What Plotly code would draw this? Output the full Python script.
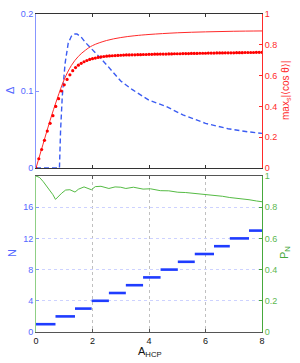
import numpy as np
import plotly.graph_objects as go

# ---- data ----
delta_x = [0, 0.83, 0.87, 0.93, 1.03, 1.14, 1.25, 1.35, 1.45, 1.6, 1.75, 2.0, 2.25, 2.5,
           2.75, 3.0, 3.4, 3.8, 4.0, 4.6, 5.2, 6.0, 6.8, 7.5, 8.0]
delta_y = [0, 0, 0.049, 0.093, 0.136, 0.162, 0.171, 0.174, 0.174, 0.170, 0.163, 0.154, 0.144,
           0.134, 0.124, 0.113, 0.102, 0.092, 0.088, 0.080, 0.069, 0.058, 0.051, 0.047, 0.045]

cos_line_x = [0, 0.25, 0.5, 0.75, 1.0, 1.25, 1.5, 1.75, 2.0, 2.5, 3.0, 3.5, 4.0, 5.0, 6.0, 7.0, 8.0]
cos_line_y = [0, 0.155, 0.31, 0.45, 0.575, 0.665, 0.725, 0.765, 0.795, 0.828, 0.847, 0.859,
              0.867, 0.878, 0.884, 0.888, 0.89]

cos_dot_x = np.round(np.arange(0, 8.001, 0.1), 1)
cos_dot_y = [0.00, 0.06, 0.12, 0.18, 0.24, 0.29, 0.34, 0.40, 0.45, 0.50,
             0.54, 0.575, 0.605, 0.632, 0.652, 0.668, 0.680, 0.690, 0.698, 0.705,
             0.710, 0.714, 0.718, 0.721, 0.724, 0.726, 0.728, 0.729, 0.730, 0.731,
             0.732, 0.733, 0.734, 0.734, 0.735, 0.735, 0.736, 0.736, 0.737, 0.737,
             0.738, 0.738, 0.739, 0.739, 0.740, 0.740, 0.740, 0.741, 0.741, 0.742,
             0.742, 0.742, 0.743, 0.743, 0.743, 0.744, 0.744, 0.744, 0.745, 0.745,
             0.745, 0.746, 0.746, 0.746, 0.747, 0.747, 0.747, 0.748, 0.748, 0.748,
             0.748, 0.749, 0.749, 0.749, 0.750, 0.750, 0.750, 0.750, 0.751, 0.751, 0.751]

n_breaks = [0, 0.69, 1.38, 1.97, 2.58, 3.18, 3.79, 4.41, 5.02, 5.62, 6.30, 6.86, 7.54, 8.0]
n_values = [1, 2, 3, 4, 5, 6, 7, 8, 9, 10, 11, 12, 13]

pn_x = [0, 0.13, 0.26, 0.4, 0.5, 0.6, 0.69, 0.8, 0.91, 1.05, 1.2, 1.38, 1.5, 1.7, 1.96, 2.1,
        2.3, 2.58, 2.8, 3.0, 3.18, 3.45, 3.79, 4.05, 4.40, 4.7, 5.02, 5.3, 5.61, 5.9, 6.30,
        6.6, 6.86, 7.2, 7.54, 7.8, 8.0]
pn_y = [1, 0.99, 0.963, 0.93, 0.91, 0.88, 0.85, 0.872, 0.89, 0.91, 0.912, 0.897, 0.915, 0.93,
        0.912, 0.932, 0.934, 0.92, 0.93, 0.928, 0.92, 0.928, 0.916, 0.918, 0.906, 0.905,
        0.896, 0.894, 0.888, 0.886, 0.876, 0.87, 0.862, 0.856, 0.848, 0.84, 0.835]

x_ticks = [0, 2, 4, 6, 8]
delta_ticks = [0, 0.1, 0.2]
delta_ticktext = ["0", "0.1", "0.2"]
frac_ticks = [0, 0.2, 0.4, 0.6, 0.8, 1]
frac_ticktext = ["0", "0.2", "0.4", "0.6", "0.8", "1"]
n_ticks = [0, 4, 8, 12, 16]

# ---- styling ----
FONT = "Liberation Sans, Arial, DejaVu Sans"
BLUE_TXT = "#5468ff"
BLUE_AX = "#8796ff"
RED = "#ff2a2a"
GREEN = "#46a83c"
W, H = 300, 363
ML, MR, MT, MB = 36, 38, 14, 31
PH = H - MT - MB


def px2x(px):
    return (px - ML) / (W - ML - MR)


def py2y(py):
    return (H - MB - py) / PH


top_dom = [py2y(168), 1.0]
bot_dom = [0.0, py2y(176)]

# step segments
step_x, step_y = [], []
for i, n in enumerate(n_values):
    step_x += [n_breaks[i], n_breaks[i + 1], None]
    step_y += [n, n, None]

fig = go.Figure()
fig.add_trace(go.Scatter(x=delta_x, y=delta_y, xaxis="x", yaxis="y", mode="lines",
                         line=dict(color="#3b5cf2", width=1.4, dash="5px,3px")))
fig.add_trace(go.Scatter(x=cos_line_x, y=cos_line_y, xaxis="x", yaxis="y2", mode="lines",
                         line=dict(color=RED, width=1, shape="spline")))
fig.add_trace(go.Scatter(x=cos_dot_x, y=cos_dot_y, xaxis="x", yaxis="y2", mode="markers",
                         marker=dict(color="#ff0000", size=3.2, line=dict(width=0))))
fig.add_trace(go.Scatter(x=step_x, y=step_y, xaxis="x2", yaxis="y3", mode="lines",
                         line=dict(color="#1f3cff", width=2.6), connectgaps=False))
fig.add_trace(go.Scatter(x=pn_x, y=pn_y, xaxis="x2", yaxis="y4", mode="lines",
                         line=dict(color="#55bb44", width=1)))

tickfont = dict(family=FONT, size=9)
common_x = dict(range=[0, 8], tickvals=x_ticks, ticks="inside", ticklen=3, tickwidth=1,
                showline=True, linewidth=1, mirror="ticks", zeroline=False, automargin=False)

fig.update_layout(
    width=W, height=H, margin=dict(l=ML, r=MR, t=MT, b=MB, autoexpand=False),
    paper_bgcolor="white", plot_bgcolor="white", showlegend=False,
    font=dict(family=FONT, size=9),
    xaxis=dict(domain=[0, 1], anchor="y", showticklabels=False, showgrid=False,
               linecolor="#333333", tickcolor="#333333", layer="below traces", **common_x),
    yaxis=dict(domain=top_dom, anchor="x", range=[0, 0.2], tickvals=delta_ticks,
               ticktext=delta_ticktext, ticks="inside", ticklen=3, showline=True,
               linecolor=BLUE_AX, tickcolor=BLUE_AX, tickfont=dict(color=BLUE_TXT, **tickfont),
               showgrid=False, zeroline=False, automargin=False),
    yaxis2=dict(overlaying="y", side="right", anchor="x", range=[0, 1], tickvals=frac_ticks,
                ticktext=frac_ticktext, ticks="inside", ticklen=3, showline=True,
                linecolor=RED, tickcolor=RED, tickfont=dict(color=RED, **tickfont),
                showgrid=False, zeroline=False, automargin=False),
    xaxis2=dict(domain=[0, 1], anchor="y3", showticklabels=True, showgrid=True,
                gridcolor="#c0c0c0", griddash="dot", gridwidth=1,
                linecolor="#555555", tickcolor="#555555",
                tickfont=dict(color="#111111", **tickfont), **common_x),
    yaxis3=dict(domain=bot_dom, anchor="x2", range=[0, 20], tickvals=n_ticks,
                ticks="inside", ticklen=3, showline=True, linecolor="#8fcf85",
                tickcolor=BLUE_AX, tickfont=dict(color=BLUE_TXT, **tickfont),
                showgrid=True, gridcolor="#cdd2ff", griddash="dot", gridwidth=1,
                zeroline=False, automargin=False),
    yaxis4=dict(overlaying="y3", side="right", anchor="x2", range=[0, 1], tickvals=frac_ticks,
                ticktext=frac_ticktext, ticks="inside", ticklen=3, showline=True,
                linecolor=GREEN, tickcolor=GREEN, tickfont=dict(color="#5cb84f", **tickfont),
                showgrid=False, zeroline=False, automargin=False),
)

ann = [
    dict(text="Δ", x=px2x(10), y=py2y(90), textangle=-90, font=dict(color=BLUE_TXT, size=11)),
    dict(text="max<sub>s</sub>|⟨cos θ⟩|", x=px2x(286), y=py2y(91), textangle=-90,
         font=dict(color=RED, size=10)),
    dict(text="N", x=px2x(12), y=py2y(253), textangle=-90, font=dict(color=BLUE_TXT, size=11)),
    dict(text="P<sub>N</sub>", x=px2x(285), y=py2y(253), textangle=-90,
         font=dict(color=GREEN, size=11)),
    dict(text="A<sub>HCP</sub>", x=px2x(150), y=py2y(352), font=dict(color="#111111", size=11)),
]
for a in ann:
    fig.add_annotation(xref="paper", yref="paper", showarrow=False, xanchor="center",
                       yanchor="middle", font_family=FONT, **{k: v for k, v in a.items()})

fig.write_html("out.html", config={"displayModeBar": False},
               post_script="document.body.style.margin='0';document.body.style.padding='0';")
